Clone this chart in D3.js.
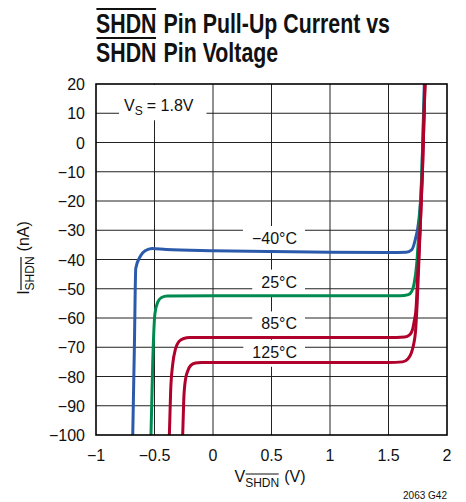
<!DOCTYPE html>
<html>
<head>
<meta charset="utf-8">
<script src="https://cdn.jsdelivr.net/npm/d3@7"></script>
<style>
  body { margin: 0; background: #fff; }
  svg { display: block; }
</style>
</head>
<body>
<div id="chart"></div>
<script>
// curve data: [volts, nA]
const temps = ["−40°C", "25°C", "85°C", "125°C"]
const colors = ["#2b5aab", "#008a50", "#b0002c", "#b0002c"]

const curveM40 = [[-0.686,-100],[-0.672,-70],[-0.66,-43],[-0.62,-38.8],[-0.58,-37],[-0.52,-36.2],[-0.4,-36.6],[0,-37.0],[0.5,-37.3],[1.0,-37.5],[1.5,-37.6],[1.65,-37.5],[1.70,-36.6],[1.73,-33],[1.756,-27.6],[1.784,-12.8],[1.806,20]]
const curve25 = [[-0.53,-100],[-0.515,-75],[-0.496,-58.4],[-0.47,-54.4],[-0.44,-53],[-0.39,-52.5],[0,-52.4],[1.0,-52.4],[1.6,-52.4],[1.67,-52],[1.70,-50.8],[1.72,-48],[1.74,-42],[1.76,-30],[1.785,-10],[1.81,20]]
const curve85 = [[-0.373,-100],[-0.362,-85],[-0.345,-76],[-0.32,-70.5],[-0.29,-68],[-0.25,-67],[-0.2,-66.7],[0.5,-66.7],[1.5,-66.7],[1.64,-66.5],[1.68,-65.8],[1.705,-64],[1.72,-61],[1.735,-57],[1.75,-45],[1.77,-30],[1.79,-10],[1.812,20]]
const curve125 = [[-0.259,-100],[-0.25,-88],[-0.235,-81],[-0.215,-78],[-0.19,-76.2],[-0.15,-75.4],[-0.1,-75.2],[0.5,-75.2],[1.5,-75.2],[1.62,-75],[1.665,-74],[1.695,-72],[1.715,-69],[1.73,-65],[1.745,-55],[1.77,-30],[1.79,-10],[1.812,20]]
const curves = [curveM40, curve25, curve85, curve125]

// label anchors (right edge of text, baseline) in data units
const labelX = 0.718
const labelY = [-34.7, -49.6, -63.9, -73.6]

const xTicks = [-1, -0.5, 0, 0.5, 1, 1.5, 2]
const yTicks = [20, 10, 0, -10, -20, -30, -40, -50, -60, -70, -80, -90, -100]

const W = 466, H = 502
const mLeft = 96, mTop = 84, pw = 351, ph = 351
const font = "'Liberation Sans', Arial, sans-serif"
const minus = s => String(s).replace("-", "−")

const svg = d3.select("#chart").append("svg").attr("width", W).attr("height", H)

const x = d3.scaleLinear().domain([-1, 2]).range([mLeft, mLeft + pw])
const y = d3.scaleLinear().domain([-100, 20]).range([mTop + ph, mTop])

// text made of pieces, some with subscript and overline
function richText(parent, parts, px, py, opts) {
  const g = parent.append("g").attr("transform", `translate(${px},${py})` + (opts.rotate ? ` rotate(${opts.rotate})` : ""))
  const inner = g.append("g")
  let cx = 0
  parts.forEach(p => {
    cx += p.gap || 0
    const t = inner.append("text")
      .attr("x", cx).attr("y", p.dy || 0)
      .attr("font-family", font)
      .attr("font-size", p.size)
      .attr("font-weight", p.weight || "normal")
      .attr("fill", "#111")
      .text(p.text)
    const w = t.node().getComputedTextLength()
    if (p.over != null) {
      inner.append("line")
        .attr("x1", cx + 0.5).attr("x2", cx + w - 0.5)
        .attr("y1", p.over).attr("y2", p.over)
        .attr("stroke", "#111").attr("stroke-width", p.overW || 1.2)
    }
    cx += w
  })
  if (opts.anchor === "middle") inner.attr("transform", `translate(${-cx / 2},0)`)
  if (opts.fit) {
    // squeeze to the condensed width of the original
    g.attr("transform", `translate(${px},${py}) scale(${opts.fit / cx},1)`)
  }
  return cx
}

// title
const t1 = richText(svg, [
  {text: "SHDN", size: 27, weight: "bold", over: -24, overW: 2},
  {text: "Pin Pull-Up Current vs", size: 27, weight: "bold", gap: 9}
], 96, 33, {fit: 294})
const t2parts = [
  {text: "SHDN", size: 27, weight: "bold", over: -24, overW: 2},
  {text: "Pin Voltage", size: 27, weight: "bold", gap: 9}
]
const tmp = svg.append("g")
const t2w = richText(tmp, t2parts, 0, 0, {})
tmp.remove()
richText(svg, t2parts, 96, 62, {fit: t2w * 294 / t1})

// grid
svg.append("g").selectAll("line").data(xTicks.slice(1, -1)).join("line")
  .attr("x1", d => x(d)).attr("x2", d => x(d))
  .attr("y1", mTop).attr("y2", mTop + ph)
  .attr("stroke", "#222").attr("stroke-width", 1)
svg.append("g").selectAll("line").data(yTicks.slice(1, -1)).join("line")
  .attr("x1", mLeft).attr("x2", mLeft + pw)
  .attr("y1", d => y(d)).attr("y2", d => y(d))
  .attr("stroke", "#222").attr("stroke-width", 1)

// tick labels
svg.append("g").selectAll("text").data(xTicks).join("text")
  .attr("x", d => x(d)).attr("y", mTop + ph + 26)
  .attr("text-anchor", "middle")
  .attr("font-family", font).attr("font-size", 16).attr("fill", "#111")
  .text(d => minus(d))
svg.append("g").selectAll("text").data(yTicks).join("text")
  .attr("x", mLeft - 11).attr("y", d => y(d) + 6)
  .attr("text-anchor", "end")
  .attr("font-family", font).attr("font-size", 16).attr("fill", "#111")
  .text(d => minus(d))

// V_S label with white box
const vsG = svg.append("g")
const vsBox = vsG.append("rect").attr("fill", "#fff")
const vsW = richText(vsG, [
  {text: "V", size: 16},
  {text: "S", size: 12, dy: 4},
  {text: "= 1.8V", size: 16, gap: 4}
], x(-0.76), y(10) - 2.5, {})
vsBox.attr("x", x(-0.76) - 5).attr("width", vsW + 18)
  .attr("y", mTop + 1).attr("height", y(7.6) - mTop - 1)

// temperature labels with white boxes
temps.forEach((name, i) => {
  const g = svg.append("g")
  const box = g.append("rect").attr("fill", "#fff")
  const t = g.append("text")
    .attr("x", x(labelX)).attr("y", y(labelY[i]))
    .attr("text-anchor", "end")
    .attr("font-family", font).attr("font-size", 16).attr("fill", "#111")
    .text(name)
  const w = t.node().getComputedTextLength()
  box.attr("x", x(labelX) - w - 9).attr("width", w + 17)
    .attr("y", y(labelY[i]) - 18).attr("height", 27)
})

// curves
svg.append("clipPath").attr("id", "plot")
  .append("rect").attr("x", mLeft).attr("y", mTop).attr("width", pw).attr("height", ph)
const line = d3.line().x(d => x(d[0])).y(d => y(d[1])).curve(d3.curveMonotoneX)
svg.append("g").attr("clip-path", "url(#plot)")
  .selectAll("path").data(curves).join("path")
  .attr("d", line)
  .attr("fill", "none")
  .attr("stroke", (d, i) => colors[i])
  .attr("stroke-width", 3)
  .attr("stroke-linejoin", "round")

// frame
svg.append("rect")
  .attr("x", mLeft).attr("y", mTop).attr("width", pw).attr("height", ph)
  .attr("fill", "none").attr("stroke", "#000").attr("stroke-width", 1.6)

// axis titles
richText(svg, [
  {text: "V", size: 16},
  {text: "SHDN", size: 12, dy: 5, over: -8},
  {text: "(V)", size: 16, gap: 5}
], 270, 482, {anchor: "middle"})
richText(svg, [
  {text: "I", size: 16},
  {text: "SHDN", size: 12, dy: 5, over: -8},
  {text: "(nA)", size: 16, gap: 5}
], 29, 258, {anchor: "middle", rotate: -90})

svg.append("text")
  .attr("x", 447).attr("y", 499)
  .attr("text-anchor", "end")
  .attr("font-family", font).attr("font-size", 10).attr("fill", "#111")
  .text("2063 G42")
</script>
</body>
</html>
